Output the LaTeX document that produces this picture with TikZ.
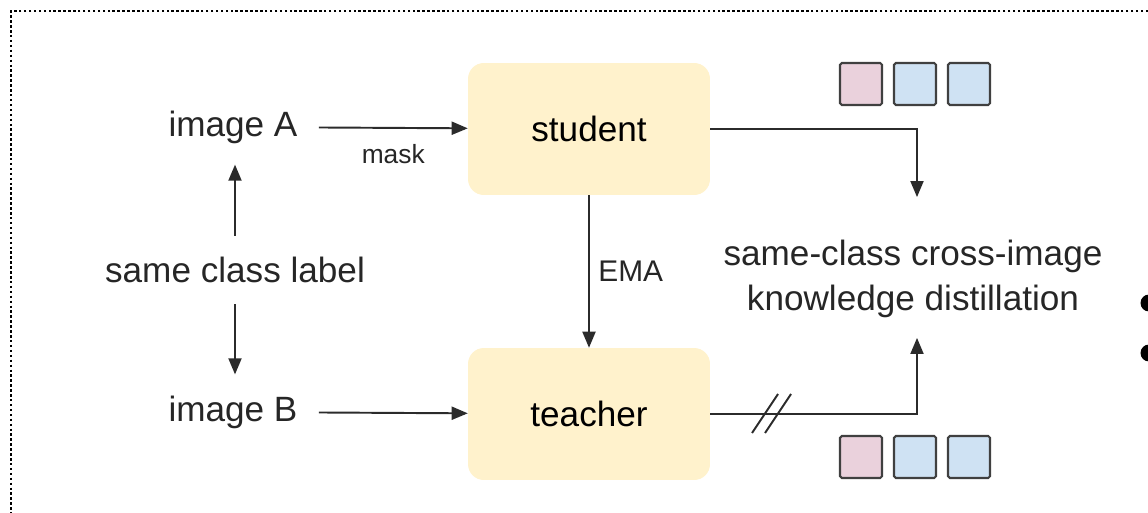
\documentclass[tikz,border=0pt]{standalone}
\usepackage{fontspec}
\setmainfont{Liberation Sans}
\usetikzlibrary{arrows, calc, positioning}
\definecolor{boxyellow}{HTML}{FFF2CC}
\definecolor{sqpink}{HTML}{EAD1DC}
\definecolor{sqblue}{HTML}{CFE2F3}
\definecolor{linegray}{HTML}{2B2B2B}
\newcommand{\drawl}{\draw[line width=1.1pt, color=linegray]}
\newcommand{\bigf}[1]{\fontsize{20}{25.6}\selectfont{#1}}
\newcommand{\smallf}[1]{\fontsize{15}{18}\selectfont{#1}}

\begin{document}
\begin{tikzpicture}[>=triangle 45, x=0.02cm, y=-0.02cm,
  block/.style={fill=boxyellow, rounded corners=9pt, minimum width=4.84cm, minimum height=2.64cm},
  txt/.style={inner sep=0.42cm, text=black!85},
  sq/.style={draw=black!75, line width=1.2pt, rounded corners=1pt, minimum size=0.84cm}]
%\draw[color=blue] (0,0) grid[step=50] (1148,513); %Lưới

\useasboundingbox (0,0) rectangle (1148,513);
% Khung chấm
\draw[line width=1.2pt, dash pattern=on 1.4pt off 1.4pt] (1148,11) -- (11,11) -- (11,513);

% Các ảnh đầu vào
\node[txt] (imgA) at (233,127) {\bigf{image A}};
\node[txt] (label) at (235,270) {\bigf{same class label}};
\node[txt] (imgB) at (233,412) {\bigf{image B}};

% Mạng học sinh, giáo viên
\node[block] (student) at (589,129) {\bigf{student}};
\node[block] (teacher) at (589,414) {\bigf{teacher}};

% Chưng cất tri thức
\node[text=black!85, align=center, font=\fontsize{20}{25.6}\selectfont] (kd) at (913,279) {same-class cross-image\\knowledge distillation};
\coordinate (kdtop) at (917,197);
\coordinate (kdbot) at (917,338);

% Các ô đặc trưng
\node[sq, fill=sqpink] (sA1) at (861,84) {};
\node[sq, fill=sqblue] (sA2) at (915,84) {};
\node[sq, fill=sqblue] (sA3) at (969,84) {};
\node[sq, fill=sqpink] (sB1) at (861,457) {};
\node[sq, fill=sqblue] (sB2) at (915,457) {};
\node[sq, fill=sqblue] (sB3) at (969,457) {};

% Mũi tên
\drawl[->] (imgA) -- node[below=0.2cm, text=black!85] {\smallf{mask}} (student);
\drawl[->] (imgB) -- (teacher);
\drawl[->] (label) -- (label |- imgA.south);
\drawl[->] (label) -- (label |- imgB.north);
\drawl[->] (student) -- node[right=0.05cm, text=black!85] {\fontsize{17}{20}\selectfont EMA} (teacher);
\drawl[->] (student.east) -| (kdtop);
\drawl[->] (teacher.east) -| (kdbot);
\drawl (752,433) -- (778,394); % Ngắt gradient
\drawl (765,433) -- (791,394);

% Dấu chấm bị cắt bên phải
\fill (1149,303) circle [radius=0.17cm];
\fill (1149,353) circle [radius=0.17cm];
\end{tikzpicture}
\end{document}
